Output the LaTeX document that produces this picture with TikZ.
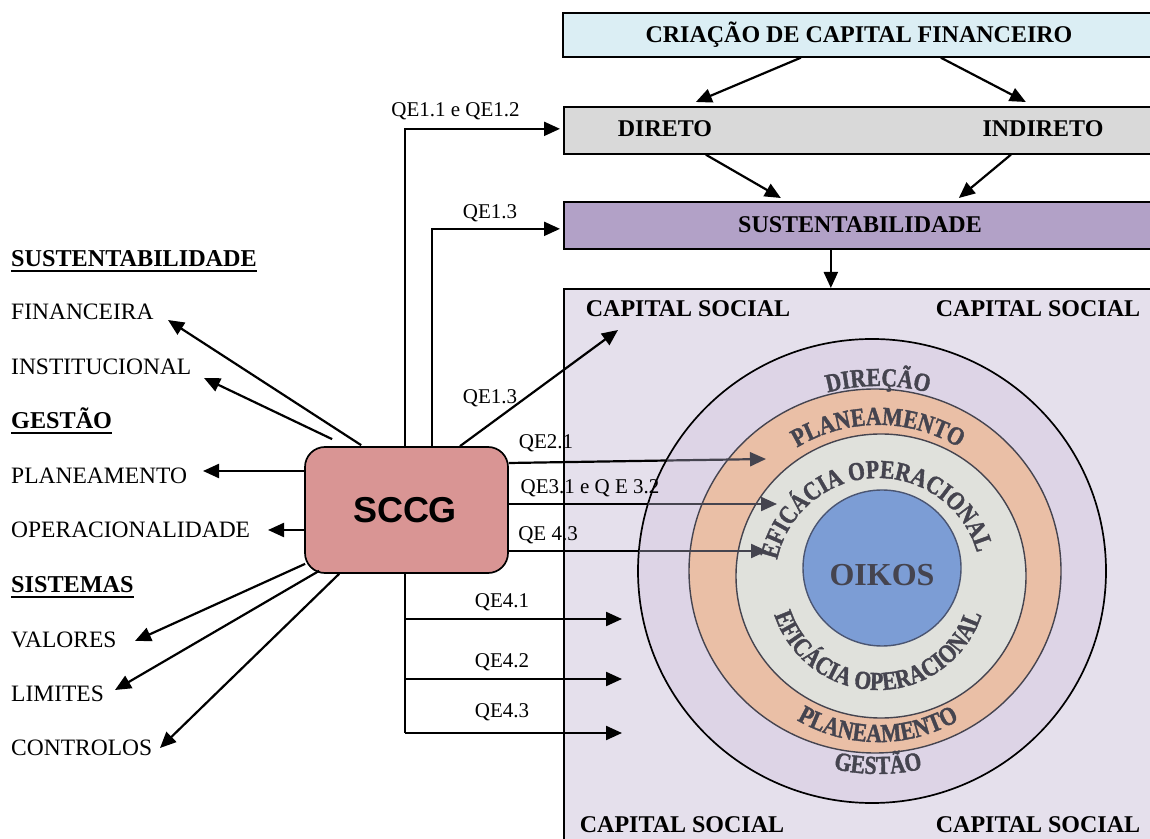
\documentclass[tikz,border=0pt]{standalone}
\usepackage{fontspec}
\setmainfont{Liberation Serif}
\newfontfamily\sccgfont{Liberation Sans}
\newfontfamily\ringfam[FakeStretch=0.83,FakeBold=1.4]{Liberation Serif Bold}
\usetikzlibrary{arrows.meta,decorations.text}

\definecolor{cfin}{HTML}{DBEEF4}
\definecolor{cdir}{HTML}{D9D9D9}
\definecolor{csus}{HTML}{B2A1C7}
\definecolor{ccap}{HTML}{E5E0EC}
\definecolor{cring}{HTML}{DDD4E6}
\definecolor{cplan}{HTML}{EABFA6}
\definecolor{cefic}{HTML}{E0E1DC}
\definecolor{coikos}{HTML}{7C9DD5}
\definecolor{coikosline}{HTML}{4A5572}
\definecolor{csccg}{HTML}{D99594}
\definecolor{cink}{HTML}{45444F}

% ring lettering
\newcommand\wafont{\ringfam\fontsize{26}{26}\selectfont\color{cink}}
% heading with a thick rule under it
\newcommand\hdrule[1]{\vtop{\hbox{#1}\kern2.5pt\hrule height 1.9pt}}

\begin{document}
\begin{tikzpicture}[x=1pt,y=1pt,
  box/.style={draw=black, line width=1.7pt, inner sep=0pt},
  lbl/.style={font=\fontsize{23.5}{24}\selectfont, anchor=base west, inner sep=0pt},
  hdr/.style={lbl, font=\fontsize{24.2}{24}\selectfont\bfseries},
  qe/.style={font=\fontsize{21}{21}\selectfont, inner sep=0pt},
  btxt/.style={font=\fontsize{24}{24}\selectfont\bfseries, inner sep=0pt},
  arr/.style={line width=2.2pt, -{Triangle[length=16pt,width=14pt]}},
  garr/.style={arr, draw=cink, fill=cink},
  plain/.style={line width=2.2pt},
  ringtxt/.style={decorate, decoration={text along path, text align=center, text={|\wafont|#1}}}
]
\useasboundingbox (0,0) rectangle (1150,838);
\clip (0,0) rectangle (1150,838);
\fill[white] (0,0) rectangle (1150,838);

% ---- financial capital chain ----
\node[box, fill=cfin, minimum width=592pt, minimum height=44pt, anchor=north west] (crie) at (562,826) {};
\node[btxt] (crietxt) at (859,803) {CRIAÇÃO DE CAPITAL FINANCEIRO};
\node[box, fill=cdir, minimum width=591pt, minimum height=47pt, anchor=north west] (dirb) at (563,732) {};
\node[btxt] (dirtxt) at (665,709) {DIRETO};
\node[btxt] (indtxt) at (1043,709) {INDIRETO};
\node[box, fill=csus, minimum width=591pt, minimum height=47pt, anchor=north west] (sust) at (563,637) {};
\node[btxt] (susttxt) at (860,613) {SUSTENTABILIDADE};
\node[box, fill=ccap, minimum width=591pt, minimum height=560pt, anchor=north west] (capb) at (563,550) {};

\draw[arr] ([xshift=-58pt]crie.south) -- ([xshift=-163.5pt,yshift=4pt]dirb.north);
\draw[arr] ([xshift=82pt]crie.south) -- ([xshift=166.5pt,yshift=4pt]dirb.north);
\draw[arr] ([xshift=-153.5pt]dirb.south) -- ([xshift=-78.5pt,yshift=3pt]sust.north);
\draw[arr] ([xshift=151.5pt]dirb.south) -- ([xshift=99.5pt,yshift=3pt]sust.north);
\draw[arr] ([xshift=-28.5pt]sust.south) -- ([xshift=-28.5pt]capb.north);

% ---- social capital ----
\node[btxt] (cs1) at (688,529) {CAPITAL SOCIAL};
\node[btxt] (cs2) at (1038,529) {CAPITAL SOCIAL};
\node[btxt] (cs3) at (682,13) {CAPITAL SOCIAL};
\node[btxt] (cs4) at (1038,13) {CAPITAL SOCIAL};

\draw[line width=1.7pt, fill=cring] (872,267) ellipse[x radius=234pt, y radius=232pt];
\draw[line width=1.4pt, draw=cink, fill=cplan] (875,267) ellipse[x radius=186pt, y radius=182pt];
\draw[line width=1.4pt, draw=cink, fill=cefic] (881,262) ellipse[x radius=145pt, y radius=142pt];
\draw[line width=1.4pt, draw=coikosline, fill=coikos] (882,270) ellipse[x radius=79pt, y radius=78pt];
\node[font=\fontsize{32}{32}\selectfont\bfseries, text=cink, inner sep=0pt] (oikos) at (882,263) {OIKOS};

\coordinate (tc) at (878,257);
\path[ringtxt={DIREÇÃO}] (tc) ++(130:195pt) arc[start angle=130, end angle=50, radius=195pt];
\path[ringtxt={PLANEAMENTO}] (tc) ++(150:156pt) arc[start angle=150, end angle=30, radius=156pt];
\path[ringtxt={EFICÁCIA OPERACIONAL}] (tc) ++(176:103pt) arc[start angle=176, end angle=8, radius=103pt];
\path[ringtxt={EFICÁCIA OPERACIONAL}] (tc) ++(185:109pt) arc[start angle=185, end angle=355, radius=109pt];
\path[ringtxt={PLANEAMENTO}] (tc) ++(210:161pt) arc[start angle=210, end angle=330, radius=161pt];
\path[ringtxt={GESTÃO}] (tc) ++(230:193pt) arc[start angle=230, end angle=310, radius=193pt];

% ---- SCCG ----
\node[box, fill=csccg, rounded corners=20pt, minimum width=203pt, minimum height=126pt] (sccg) at (406.5,328) {};
\node[font=\sccgfont\fontsize{36}{36}\selectfont\bfseries, inner sep=0pt] (sccgtxt) at (405,328) {SCCG};

% links to the chain
\draw[arr] ([xshift=-1.5pt]sccg.north) |- ([xshift=-3pt,yshift=1.5pt]dirb.west);
\node[qe] (q11) at (455.5,727) {QE1.1 e QE1.2};
\draw[arr] ([xshift=25.5pt]sccg.north) |- ([xshift=-3pt,yshift=-3.5pt]sust.west);
\node[qe] (q13a) at (490,625) {QE1.3};
\coordinate (tcap) at (618,508);
\draw[arr] ([xshift=53.5pt]sccg.north) -- (tcap);
\node[qe] (q13b) at (490,440) {QE1.3};

% links into the rings
\coordinate (x21) at (667,377.5); \coordinate (t21) at (766,379);
\draw[plain] ([yshift=47pt]sccg.east) -- (x21);
\draw[garr] (x21) -- (t21);
\node[qe] (q21) at (546,395) {QE2.1};
\coordinate (x31) at (648,334); \coordinate (t31) at (777,334);
\draw[plain] ([yshift=6pt]sccg.east) -- (x31);
\draw[garr] (x31) -- (t31);
\node[qe] (q31) at (590,350) {QE3.1 e Q E 3.2};
\coordinate (x43) at (639,287); \coordinate (t43) at (767,287);
\draw[plain] ([yshift=-41pt]sccg.east) -- (x43);
\draw[garr] (x43) -- (t43);
\node[qe] (q43) at (548,303) {QE 4.3};

% lower branch
\coordinate (bv) at (405,105);
\draw[plain] ([xshift=-1.5pt]sccg.south) -- (bv);
\coordinate (b1) at (405,219); \coordinate (e1) at (622,219);
\coordinate (b2) at (405,159); \coordinate (e2) at (622,159);
\coordinate (e3) at (622,105);
\draw[arr] (b1) -- (e1);
\draw[arr] (b2) -- (e2);
\draw[arr] (bv) -- (e3);
\node[qe] (q41) at (502,236) {QE4.1};
\node[qe] (q42) at (502,176) {QE4.2};
\node[qe] (q43b) at (502,126) {QE4.3};

% ---- left-hand dimensions ----
\node[hdr] (lsust) at (11,571) {\hdrule{SUSTENTABILIDADE}};
\node[lbl] (lfin) at (11,518) {FINANCEIRA};
\node[lbl] (linst) at (11,463) {INSTITUCIONAL};
\node[hdr] (lgest) at (11,409) {\hdrule{GESTÃO}};
\node[lbl] (lplan) at (11,354) {PLANEAMENTO};
\node[lbl] (loper) at (11,300) {OPERACIONALIDADE};
\node[hdr] (lsist) at (11,245) {\hdrule{SISTEMAS}};
\node[lbl] (lval) at (11,191) {VALORES};
\node[lbl] (llim) at (11,137) {LIMITES};
\node[lbl] (lcont) at (11,83) {CONTROLOS};

\coordinate (tfin) at (168,518);
\coordinate (tinst) at (204,460);
\coordinate (tplan) at (203,367);
\coordinate (toper) at (268,308);
\coordinate (tval) at (135,197);
\coordinate (tlim) at (115,148);
\coordinate (tcont) at (160,90);
\draw[arr] ([shift={(57pt,1pt)}]sccg.north west) -- (tfin);
\draw[arr] ([shift={(28pt,7pt)}]sccg.north west) -- (tinst);
\draw[arr] ([yshift=39pt]sccg.west) -- (tplan);
\draw[arr] ([yshift=-20pt]sccg.west) -- (toper);
\draw[arr] ([shift={(1pt,10pt)}]sccg.south west) -- (tval);
\draw[arr] ([shift={(15pt,3pt)}]sccg.south west) -- (tlim);
\draw[arr] ([shift={(35pt,0pt)}]sccg.south west) -- (tcont);
\end{tikzpicture}
\end{document}
